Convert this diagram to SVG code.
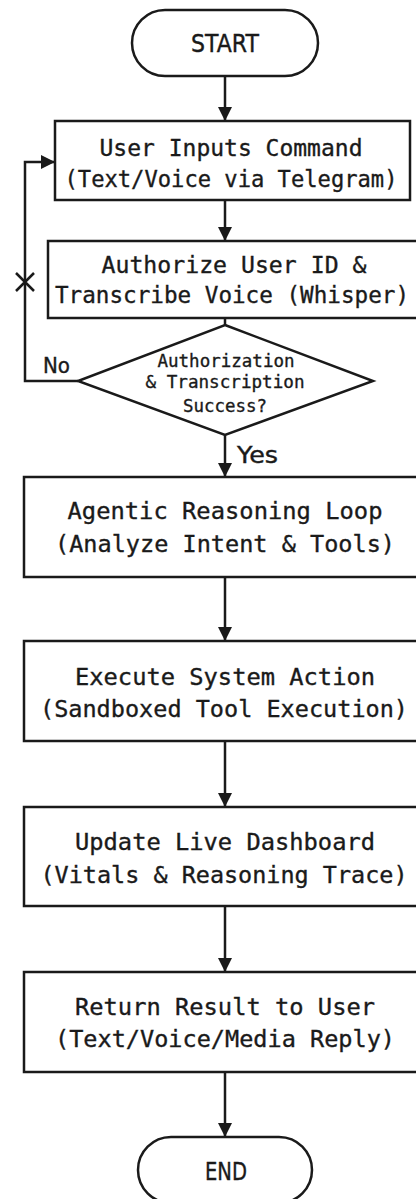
<svg xmlns="http://www.w3.org/2000/svg" width="416" height="1199" viewBox="0 0 416 1199">
<defs>
<style>
.shape{fill:#fff;stroke:#1a1a1a;stroke-width:2.5}
.mono{font-family:"DejaVu Sans Mono","Liberation Mono",monospace;fill:#1a1a1a;stroke:#1a1a1a;stroke-width:0.35;text-anchor:middle}
.sans{font-family:"DejaVu Sans","Liberation Sans",sans-serif;fill:#1a1a1a;stroke:#1a1a1a;stroke-width:0.4}
.conn{fill:none;stroke:#1a1a1a;stroke-width:2.5}
</style>
<marker id="arr" markerUnits="userSpaceOnUse" markerWidth="14" markerHeight="14" viewBox="0 0 14 14" refX="14" refY="7" orient="auto">
<path d="M0,0 L14,7 L0,14 Z" fill="#1a1a1a"/>
</marker>
</defs>
<rect width="416" height="1199" fill="#fff"/>
<g id="connectors">
<line class="conn" x1="225" y1="76" x2="225" y2="121" marker-end="url(#arr)"/>
<line class="conn" x1="225" y1="200" x2="225" y2="241" marker-end="url(#arr)"/>
<line class="conn" x1="225" y1="318" x2="225" y2="325"/>
<polyline class="conn" points="78,381 25,381 25,162 55,162" marker-end="url(#arr)"/>
<path class="conn" d="M16,273 L34,291 M34,273 L16,291"/>
<text class="sans" x="43" y="373" font-size="21" textLength="27" lengthAdjust="spacingAndGlyphs">No</text>
<line class="conn" x1="225" y1="435" x2="225" y2="477" marker-end="url(#arr)"/>
<text class="sans" x="237" y="463" font-size="23" textLength="41" lengthAdjust="spacingAndGlyphs">Yes</text>
<line class="conn" x1="225" y1="577" x2="225" y2="641" marker-end="url(#arr)"/>
<line class="conn" x1="225" y1="741" x2="225" y2="807" marker-end="url(#arr)"/>
<line class="conn" x1="225" y1="906" x2="225" y2="972" marker-end="url(#arr)"/>
<line class="conn" x1="225" y1="1072" x2="225" y2="1137" marker-end="url(#arr)"/>
</g>
<g id="start">
<rect class="shape" x="132" y="10" width="186" height="66" rx="33" ry="33"/>
<text class="sans" x="225" y="52" font-size="24" text-anchor="middle" textLength="68" lengthAdjust="spacingAndGlyphs">START</text>
</g>
<g id="input">
<rect class="shape" x="55" y="121" width="355" height="79"/>
<text class="mono" x="231" y="156" font-size="23" textLength="263" lengthAdjust="spacingAndGlyphs">User Inputs Command</text>
<text class="mono" x="231" y="187" font-size="23" textLength="333" lengthAdjust="spacingAndGlyphs">(Text/Voice via Telegram)</text>
</g>
<g id="authorize">
<rect class="shape" x="48" y="241" width="380" height="77"/>
<text class="mono" x="234" y="273" font-size="23" textLength="265" lengthAdjust="spacingAndGlyphs">Authorize User ID &amp;</text>
<text class="mono" x="232" y="303" font-size="23" textLength="354" lengthAdjust="spacingAndGlyphs">Transcribe Voice (Whisper)</text>
</g>
<g id="decision">
<polygon class="shape" points="225,325 373,381 225,435 78,381"/>
<text class="mono" x="226" y="367" font-size="17.5" textLength="137" lengthAdjust="spacingAndGlyphs">Authorization</text>
<text class="mono" x="225" y="388" font-size="17.5" textLength="159" lengthAdjust="spacingAndGlyphs">&amp; Transcription</text>
<text class="mono" x="225" y="412" font-size="17.5" textLength="84" lengthAdjust="spacingAndGlyphs">Success?</text>
</g>
<g id="reasoning">
<rect class="shape" x="24" y="477" width="410" height="100"/>
<text class="mono" x="225" y="519" font-size="23.5" textLength="315" lengthAdjust="spacingAndGlyphs">Agentic Reasoning Loop</text>
<text class="mono" x="225" y="552" font-size="23.5" textLength="340" lengthAdjust="spacingAndGlyphs">(Analyze Intent &amp; Tools)</text>
</g>
<g id="execute">
<rect class="shape" x="24" y="641" width="410" height="100"/>
<text class="mono" x="225" y="685" font-size="23.5" textLength="300" lengthAdjust="spacingAndGlyphs">Execute System Action</text>
<text class="mono" x="224" y="717" font-size="23.5" textLength="368" lengthAdjust="spacingAndGlyphs">(Sandboxed Tool Execution)</text>
</g>
<g id="dashboard">
<rect class="shape" x="24" y="807" width="410" height="99"/>
<text class="mono" x="225" y="850" font-size="23.5" textLength="300" lengthAdjust="spacingAndGlyphs">Update Live Dashboard</text>
<text class="mono" x="224" y="883" font-size="23.5" textLength="367" lengthAdjust="spacingAndGlyphs">(Vitals &amp; Reasoning Trace)</text>
</g>
<g id="return">
<rect class="shape" x="24" y="972" width="410" height="100"/>
<text class="mono" x="225" y="1015" font-size="23.5" textLength="300" lengthAdjust="spacingAndGlyphs">Return Result to User</text>
<text class="mono" x="225" y="1047" font-size="23.5" textLength="340" lengthAdjust="spacingAndGlyphs">(Text/Voice/Media Reply)</text>
</g>
<g id="end">
<rect class="shape" x="138" y="1137" width="174" height="66" rx="33" ry="33"/>
<text class="sans" x="226" y="1180" font-size="24" text-anchor="middle" textLength="42" lengthAdjust="spacingAndGlyphs">END</text>
</g>
</svg>
